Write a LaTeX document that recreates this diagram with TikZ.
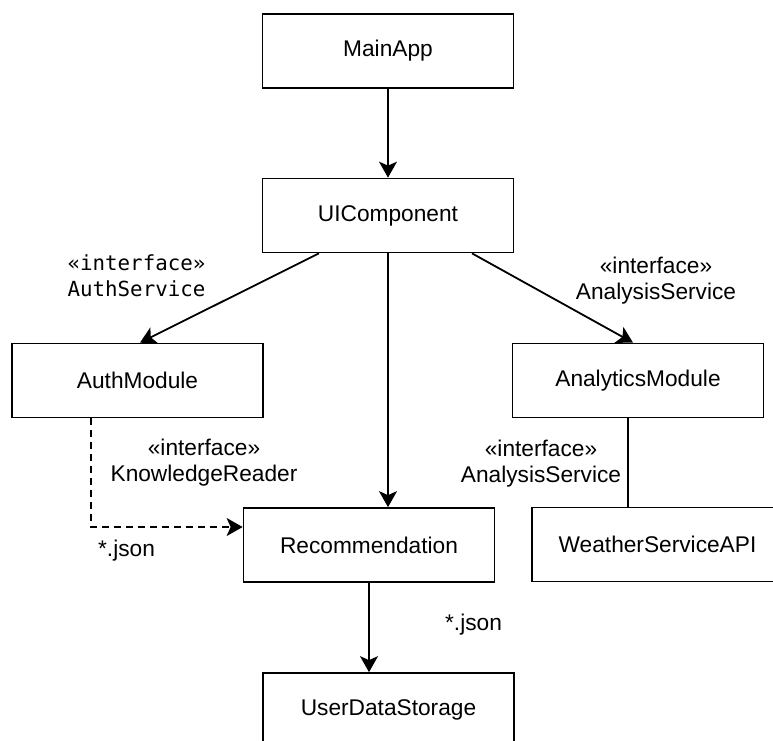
\documentclass[tikz,border=0pt]{standalone}
\usepackage{fontspec}
\setmainfont{Liberation Sans}
\setmonofont{DejaVu Sans Mono}
\usetikzlibrary{arrows.meta,calc}
\begin{document}
\begin{tikzpicture}[x=1pt,y=-1pt,
  box/.style={draw, line width=1.7pt, minimum width=251pt, minimum height=74pt,
    inner sep=0pt, font=\fontsize{22.7}{26}\selectfont},
  lbl/.style={align=center, inner sep=0pt, font=\fontsize{22.7}{26}\selectfont},
  monolbl/.style={align=center, inner sep=0pt, font=\fontsize{20.8}{26}\selectfont\ttfamily},
  link/.style={line width=1.8pt, -{Stealth[length=16pt,width=18pt,inset=4pt]}},
  plain/.style={line width=1.8pt},
  dashlink/.style={link, dash pattern=on 7pt off 5pt}
]
\useasboundingbox (0,0) rectangle (773,740);

% component boxes
\node[box] (main) at (388,51) {MainApp};
\node[box] (ui)   at (388,215.5) {UIComponent};
\node[box] (auth) at (137.5,380.5) {AuthModule};
\node[box] (ana)  at (638,380.5) {AnalyticsModule};
\node[box] (rec)  at (369,545) {Recommendation};
\node[box] (wx)   at (657.5,544.5) {WeatherServiceAPI};
\node[box] (store) at (388.5,710) {UserDataStorage};

% interface labels
\node[monolbl] (lauth) at (136.5,276) {«interface»\\AuthService};
\node[lbl] (lana) at (656,280.5) {«interface»\\AnalysisService};
\node[lbl] (lkr) at (204,463) {«interface»\\KnowledgeReader};
\node[lbl] (lwx) at (541,463.5) {«interface»\\AnalysisService};
\node[lbl] (j1) at (126.5,551) {*.json};
\node[lbl] (j2) at (473.5,625) {*.json};

% connectors
\draw[link] (main.south) -- (ui.north);
\draw[link] ([xshift=-69pt]ui.south) -- ([xshift=2.5pt]auth.north);
\draw[link] ([xshift=84pt]ui.south) -- ([xshift=-5pt]ana.north);
\draw[link] (ui.south) -- (ui.south |- rec.north);
\draw[dashlink] ([xshift=-46.5pt]auth.south) |- ([yshift=18pt]rec.west);
\draw[plain] ([xshift=-10pt]ana.south) -- ([xshift=-10pt]ana.south |- wx.north);
\draw[link] (rec.south) -- (rec.south |- store.north);
\end{tikzpicture}
\end{document}
